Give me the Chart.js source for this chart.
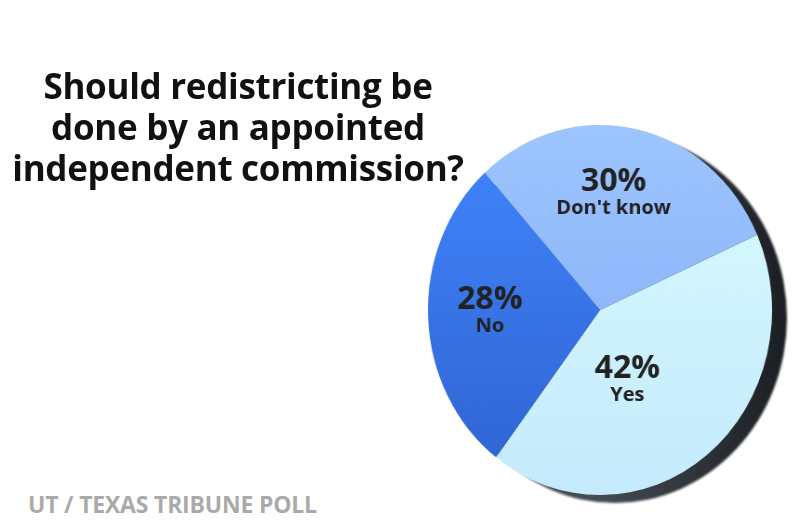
<!DOCTYPE html>
<html>
<head>
<meta charset="utf-8">
<script src="https://cdn.jsdelivr.net/npm/chart.js@4/dist/chart.umd.min.js"></script>
<style>
  html, body { margin: 0; padding: 0; background: #fff; }
  #wrap { position: relative; width: 800px; height: 530px; overflow: hidden; }
  /* squeeze the pie a little so it reads as a tilted disc */
  #pie { position: absolute; left: 400px; top: 110px; transform: scaleX(0.93); transform-origin: 200px 200px; }
  #title {
    position: absolute; left: 8px; top: 65px; width: 460px;
    text-align: center; font-family: "Open Sans", sans-serif; font-weight: 700;
    font-size: 35px; line-height: 41px; color: #111; letter-spacing: -0.3px;
  }
  #source {
    position: absolute; left: 28px; top: 488px;
    font-family: "Open Sans", sans-serif; font-weight: 700;
    font-size: 23px; color: #aaa; letter-spacing: -0.2px;
  }
</style>
</head>
<body>
<div id="wrap">
  <canvas id="pie" width="420" height="420"></canvas>
  <div id="title">Should redistricting be<br>done by an appointed<br>independent commission?</div>
  <div id="source">UT / TEXAS TRIBUNE POLL</div>
</div>
<script>
const labels = ["Yes", "No", "Don't know"];
const shares = [42, 28, 30];

// slice colours, top and bottom of each gradient
const topColors = ["#dafcff", "#4286ff", "#9dc5ff"];
const bottomColors = ["#c4eafc", "#2e62cf", "#80aaf4"];

const squeeze = 0.93;

// where each label sits: fraction of radius, nudge in degrees
const labelSpots = [
  { r: 0.40, nudge: 15 },
  { r: 0.64, nudge: 3 },
  { r: 0.65, nudge: -5 }
];

function sliceFill(c) {
  const i = c.dataIndex;
  const area = c.chart.chartArea;
  if (i === undefined || !area) return topColors[i || 0];
  const g = c.chart.ctx.createLinearGradient(0, area.top, 0, area.bottom);
  g.addColorStop(0, topColors[i]);
  g.addColorStop(1, bottomColors[i]);
  return g;
}

// dark rim drawn behind the pie, gives the disc some thickness
const rimPlugin = {
  id: "rim",
  beforeDatasetsDraw(chart) {
    const arc = chart.getDatasetMeta(0).data[0];
    if (!arc) return;
    const ctx = chart.ctx;
    ctx.save();
    const g = ctx.createLinearGradient(arc.x, 0, arc.x + arc.outerRadius + 16, 0);
    g.addColorStop(0, "#454b52");
    g.addColorStop(1, "#1b1e22");
    ctx.fillStyle = g;
    ctx.filter = "blur(1px)";
    ctx.beginPath();
    ctx.arc(arc.x + 16, arc.y + 8, arc.outerRadius, 0, Math.PI * 2);
    ctx.fill();
    ctx.restore();
  }
};

const labelPlugin = {
  id: "sliceLabels",
  afterDatasetsDraw(chart) {
    const ctx = chart.ctx;
    const meta = chart.getDatasetMeta(0);
    ctx.save();
    ctx.fillStyle = "#222";
    ctx.textAlign = "center";
    ctx.textBaseline = "alphabetic";
    meta.data.forEach((arc, i) => {
      const mid = (arc.startAngle + arc.endAngle) / 2 + labelSpots[i].nudge * Math.PI / 180;
      const rr = arc.outerRadius * labelSpots[i].r;
      ctx.save();
      ctx.translate(arc.x + Math.cos(mid) * rr, arc.y + Math.sin(mid) * rr);
      ctx.scale(1 / squeeze, 1);
      ctx.font = "700 32px 'Open Sans', sans-serif";
      ctx.fillText(shares[i] + "%", 0, 0);
      ctx.font = "700 20px 'Open Sans', sans-serif";
      ctx.fillText(labels[i], 0, 23);
      ctx.restore();
    });
    ctx.restore();
  }
};

new Chart(document.getElementById("pie").getContext("2d"), {
  type: "pie",
  data: {
    labels,
    datasets: [{
      data: shares,
      backgroundColor: sliceFill,
      borderWidth: 0
    }]
  },
  options: {
    responsive: false,
    animation: false,
    rotation: 66,
    layout: { padding: { left: 15, right: 35, top: 15, bottom: 35 } },
    plugins: {
      legend: { display: false },
      tooltip: { enabled: false }
    }
  },
  plugins: [rimPlugin, labelPlugin]
});
</script>
</body>
</html>
